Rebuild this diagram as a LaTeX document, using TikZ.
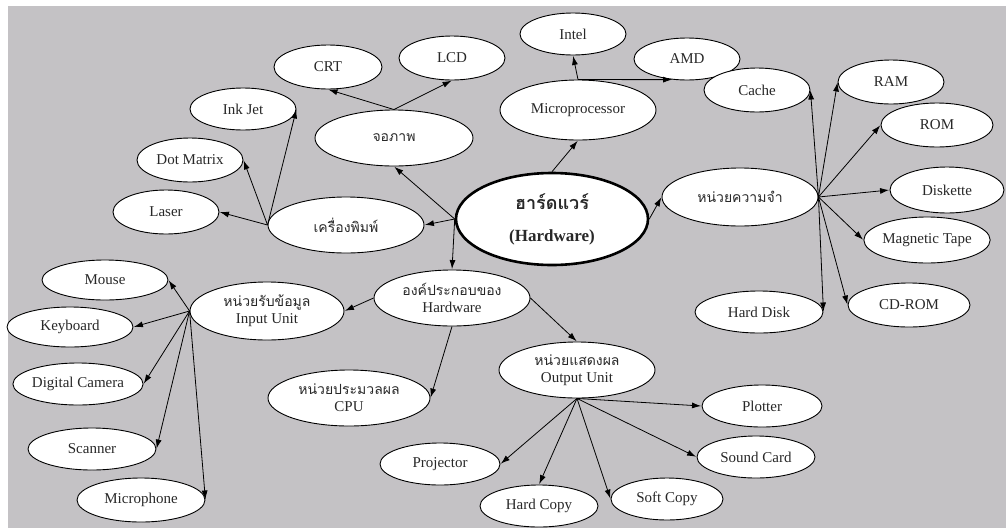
\documentclass[tikz,border=0pt]{standalone}
\usepackage{fontspec}
\setmainfont{Liberation Serif}
\newfontfamily\thaifont[Script=Thai]{Loma}
\usetikzlibrary{shapes.geometric,arrows.meta}
\definecolor{bgray}{RGB}{196,194,197}
\definecolor{txt}{RGB}{40,40,40}
\begin{document}
\begin{tikzpicture}[x=1pt,y=-1pt,
  every node/.style={font=\fontsize{15}{17}\selectfont, text=txt},
  leaf/.style={ellipse, draw=black, line width=0.9pt, fill=white, inner sep=0pt, align=center},
  thai/.style={font=\thaifont\fontsize{14}{18}\selectfont},
  arr/.style={-{Latex[length=9pt,width=6pt]}, line width=0.8pt, shorten >=0.5pt},
]
\useasboundingbox (0,0) rectangle (1006,528);
\fill[white] (0,0) rectangle (1006,528);
\fill[bgray] (8,6) rectangle (1006,528);

% centre
\node[leaf, line width=2.6pt, minimum width=192, minimum height=92, font=\fontsize{17}{20}\selectfont\bfseries] (hw) at (552,219)
  {{\thaifont\fontsize{18}{20}\selectfont ฮาร์ดแวร์}\\[12pt](Hardware)};

% display / printer
\node[leaf, thai, minimum width=158, minimum height=56] (disp) at (394,138) {จอภาพ};
\node[leaf, thai, minimum width=156, minimum height=56] (prn) at (346,225) {เครื่องพิมพ์};
\node[leaf, minimum width=108, minimum height=44] (crt) at (328,67) {CRT};
\node[leaf, minimum width=106, minimum height=44] (lcd) at (452,58) {LCD};
\node[leaf, minimum width=106, minimum height=42] (inkjet) at (243,109) {Ink Jet};
\node[leaf, minimum width=106, minimum height=44] (dotm) at (190,160) {Dot Matrix};
\node[leaf, minimum width=106, minimum height=44] (laser) at (166,212) {Laser};

% microprocessor
\node[leaf, minimum width=156, minimum height=60] (micro) at (578,110) {Microprocessor};
\node[leaf, minimum width=106, minimum height=42] (intel) at (573,34) {Intel};
\node[leaf, minimum width=106, minimum height=42] (amd) at (687,59) {AMD};

% memory
\node[leaf, thai, minimum width=156, minimum height=58] (mem) at (740,197) {หน่วยความจำ};
\node[leaf, minimum width=106, minimum height=44] (cache) at (757,90) {Cache};
\node[leaf, minimum width=106, minimum height=44] (ram) at (891,82) {RAM};
\node[leaf, minimum width=112, minimum height=44] (rom) at (937,125) {ROM};
\node[leaf, minimum width=114, minimum height=46] (disk) at (947,190) {Diskette};
\node[leaf, minimum width=120, minimum height=46] (tape) at (927,240) {Magnetic Tape};
\node[leaf, minimum width=128, minimum height=42] (hd) at (759,312) {Hard Disk};
\node[leaf, minimum width=122, minimum height=44] (cd) at (909,305) {CD-ROM};

% components
\node[leaf, minimum width=156, minimum height=56] (comp) at (452,298)
  {{\thaifont\fontsize{14}{18}\selectfont องค์ประกอบของ}\\Hardware};
\node[leaf, minimum width=154, minimum height=58] (input) at (267,311)
  {{\thaifont\fontsize{14}{18}\selectfont หน่วยรับข้อมูล}\\Input Unit};
\node[leaf, minimum width=162, minimum height=56] (cpu) at (349,398)
  {{\thaifont\fontsize{14}{18}\selectfont หน่วยประมวลผล}\\CPU};
\node[leaf, minimum width=156, minimum height=56] (output) at (577,370)
  {{\thaifont\fontsize{14}{18}\selectfont หน่วยแสดงผล}\\Output Unit};

% output leaves
\node[leaf, minimum width=120, minimum height=42] (plotter) at (762,406) {Plotter};
\node[leaf, minimum width=118, minimum height=42] (sound) at (756,457) {Sound Card};
\node[leaf, minimum width=112, minimum height=42] (soft) at (667,499) {Soft Copy};
\node[leaf, minimum width=118, minimum height=42] (hardc) at (539,506) {Hard Copy};
\node[leaf, minimum width=120, minimum height=42] (proj) at (440,464) {Projector};

% input leaves
\node[leaf, minimum width=126, minimum height=40] (mouse) at (105,280) {Mouse};
\node[leaf, minimum width=126, minimum height=40] (kbd) at (70,327) {Keyboard};
\node[leaf, minimum width=130, minimum height=42] (cam) at (78,384) {Digital Camera};
\node[leaf, minimum width=128, minimum height=42] (scan) at (92,449) {Scanner};
\node[leaf, minimum width=128, minimum height=44] (mic) at (141,500) {Microphone};

% arrows: centre
\draw[arr] (hw.west) -- (disp.south) ;
\draw[arr] (hw.west) -- (prn.east);
\draw[arr] (hw.west) -- (comp.north);
\draw[arr] (hw.north) -- (micro.south);
\draw[arr] (hw.east) -- (mem.west);

% display / printer
\draw[arr] (disp.north) -- (crt.south);
\draw[arr] (disp.north) -- (lcd.south);
\draw[arr] (prn.west) -- (laser.east);
\draw[arr] (prn.west) -- (dotm.east);
\draw[arr] (prn.west) -- (inkjet.east);

% micro
\draw[arr] (micro.north) -- (intel.south);
\draw[arr] (micro.north) -- (amd.235);

% memory
\draw[arr] (mem.east) -- (cache.east);
\draw[arr] (mem.east) -- (ram.west);
\draw[arr] (mem.east) -- (rom.west);
\draw[arr] (mem.east) -- (disk.west);
\draw[arr] (mem.east) -- (tape.west);
\draw[arr] (mem.east) -- (hd.east);
\draw[arr] (mem.east) -- (cd.west);

% components
\draw[arr] (comp.west) -- (input.east);
\draw[arr] (comp.south) -- (cpu.east);
\draw[arr] (comp.east) -- (output.north);

% input
\draw[arr] (input.west) -- (mouse.east);
\draw[arr] (input.west) -- (kbd.east);
\draw[arr] (input.west) -- (cam.east);
\draw[arr] (input.west) -- (scan.east);
\draw[arr] (input.west) -- (mic.east);

% output
\draw[arr] (output.south) -- (plotter.west);
\draw[arr] (output.south) -- (sound.west);
\draw[arr] (output.south) -- (soft.west);
\draw[arr] (output.south) -- (hardc.north);
\draw[arr] (output.south) -- (proj.east);
\end{tikzpicture}
\end{document}
